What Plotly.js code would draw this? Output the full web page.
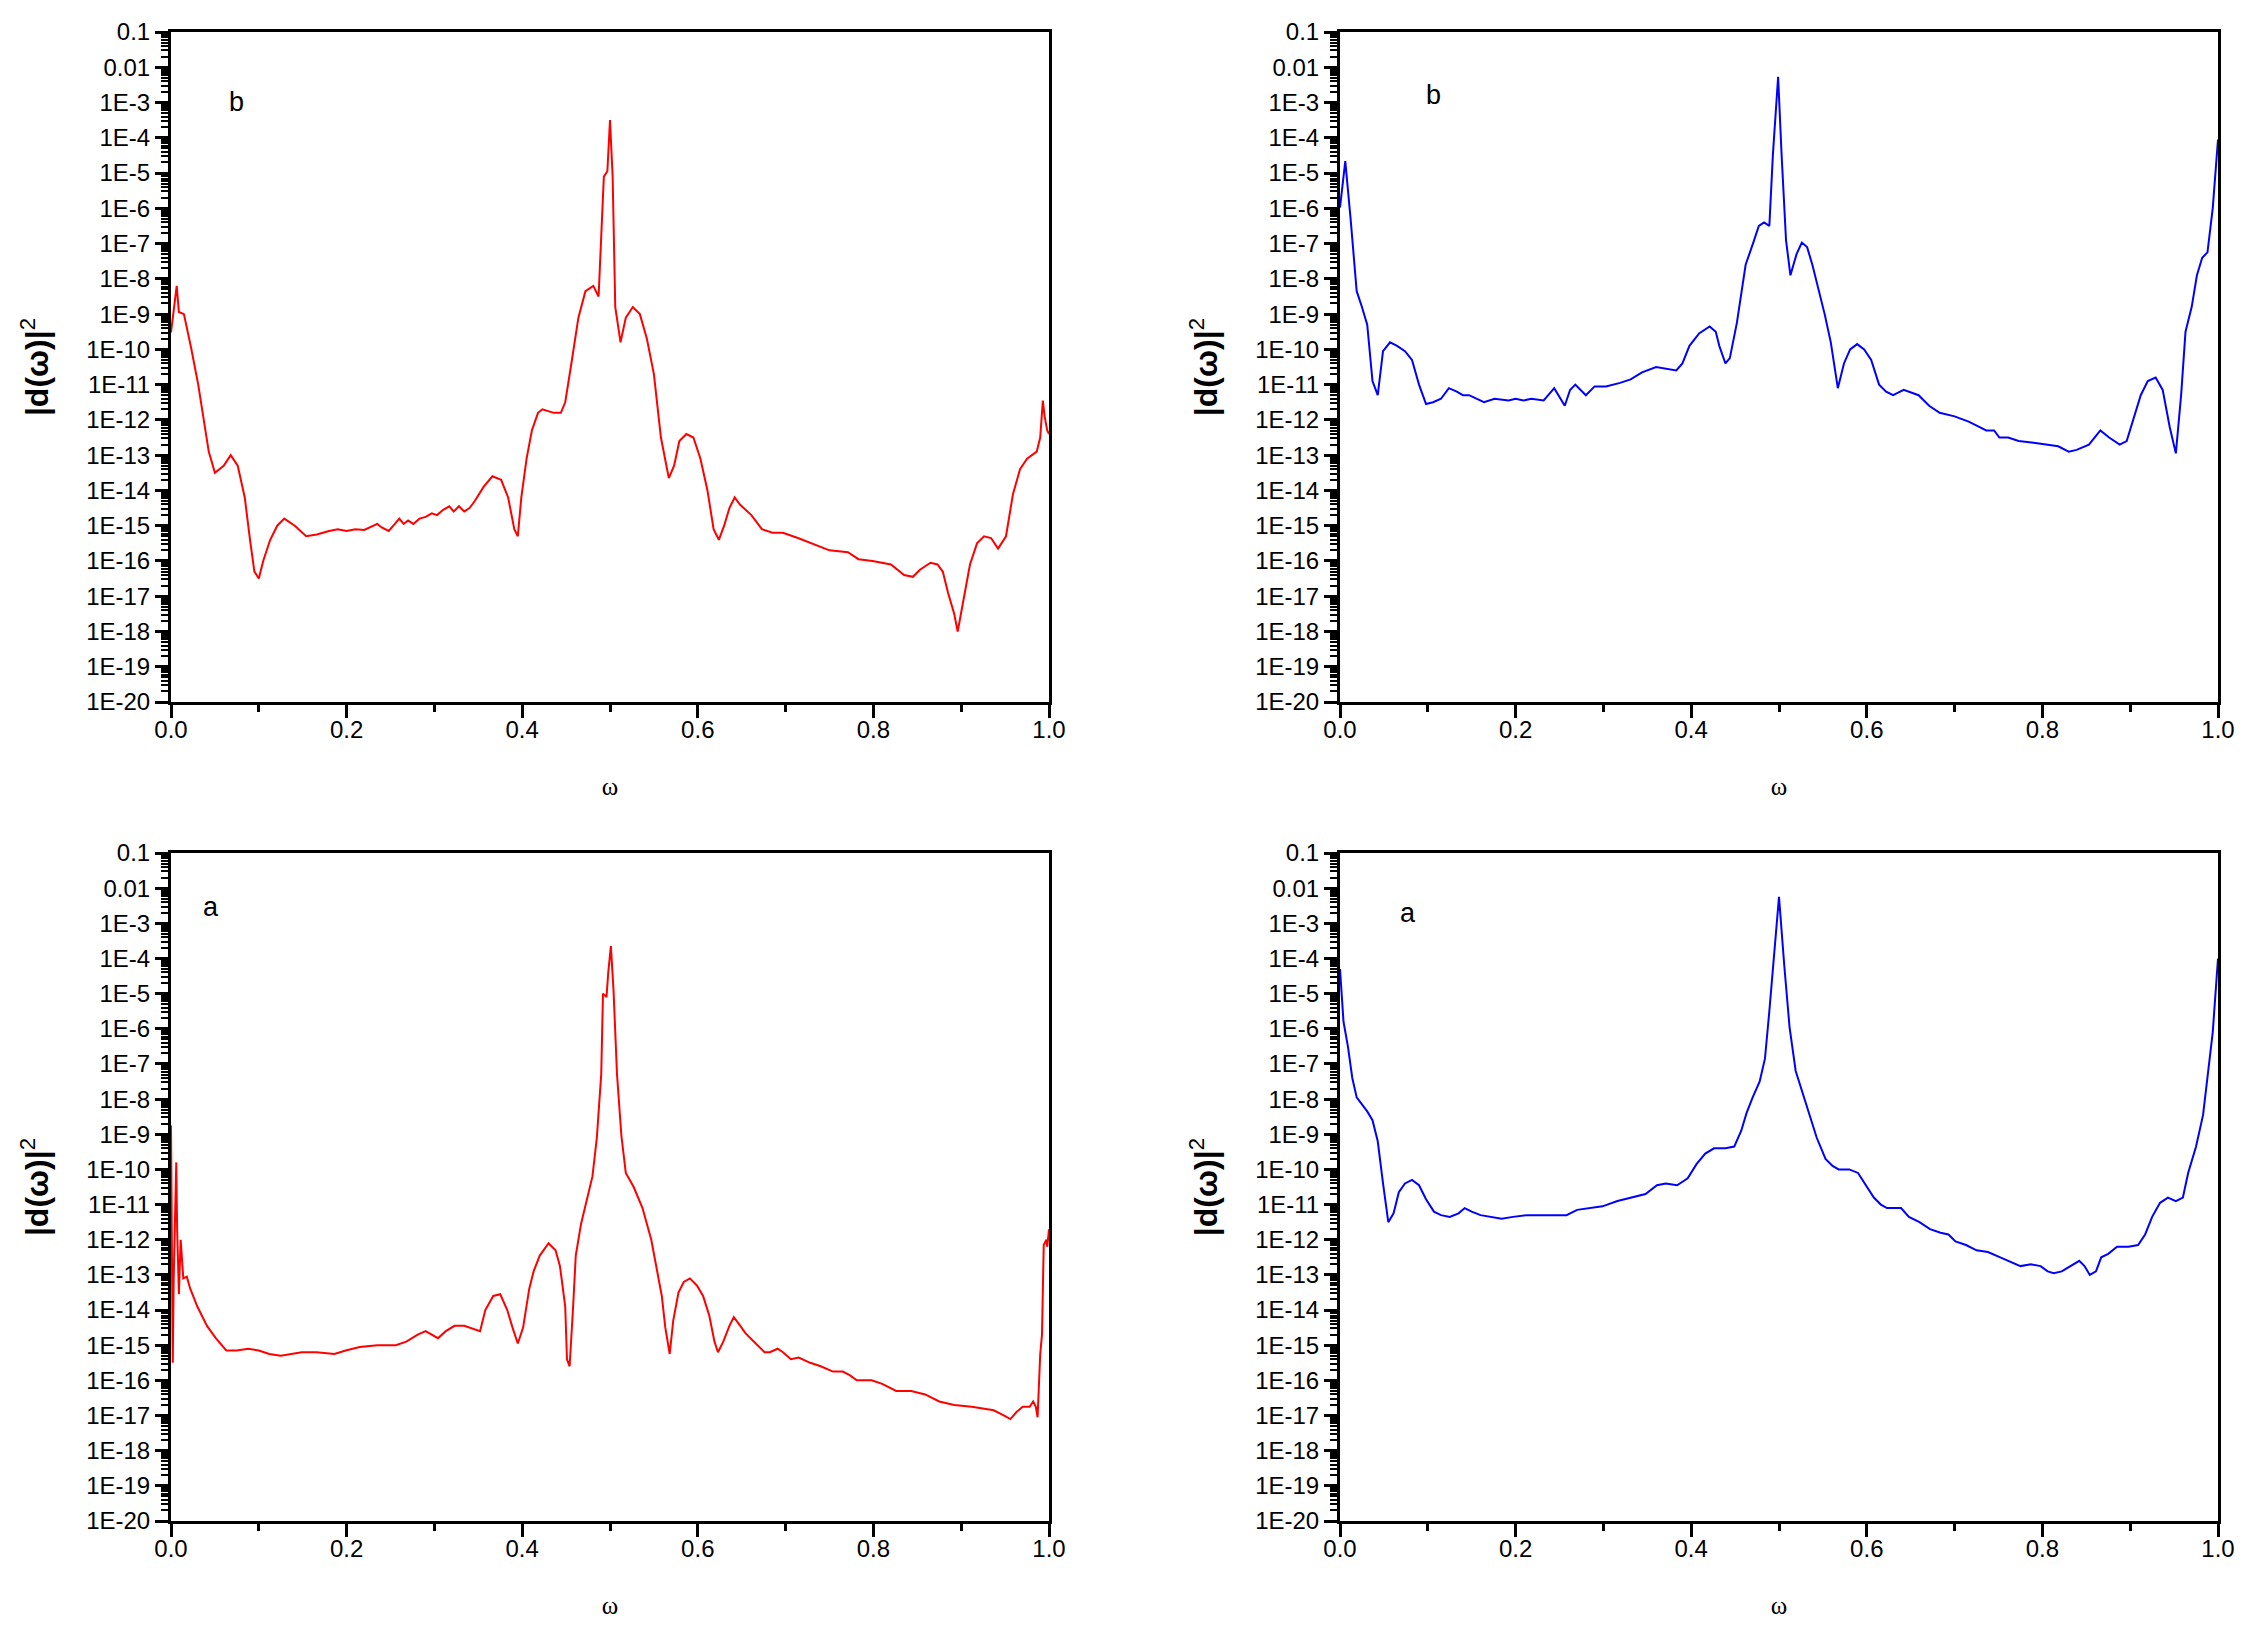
<!DOCTYPE html>
<html>
<head>
<meta charset="utf-8">
<script src="https://cdn.plot.ly/plotly-3.0.1.min.js"></script>
<style>
    html, body { margin: 0; padding: 0; background: white; }
    #chart { width: 2256px; height: 1628px; }
</style>
</head>
<body>
<div id="chart"></div>
<script>
// values: omega and log10 |d(omega)|^2

// top left, red, panel b
const omegaRedB = [
    0, 0.0065, 0.009, 0.0147, 0.023, 0.031, 0.043, 0.050, 0.060, 0.068,
    0.076, 0.084, 0.090, 0.095, 0.100, 0.105, 0.113, 0.121, 0.129, 0.141,
    0.154, 0.166, 0.180, 0.190, 0.200, 0.210, 0.220, 0.230, 0.235, 0.240,
    0.248, 0.255, 0.260, 0.265, 0.270, 0.276, 0.283, 0.290, 0.297, 0.303,
    0.310, 0.317, 0.322, 0.328, 0.334, 0.340, 0.346, 0.356, 0.366, 0.376,
    0.384, 0.391, 0.395, 0.399, 0.405, 0.411, 0.418, 0.423, 0.436, 0.444,
    0.449, 0.456, 0.464, 0.472, 0.481, 0.487, 0.493, 0.497, 0.500, 0.503,
    0.506, 0.512, 0.518, 0.526, 0.534, 0.542, 0.550, 0.558, 0.567, 0.573,
    0.579, 0.587, 0.595, 0.603, 0.611, 0.618, 0.624, 0.630, 0.636, 0.642,
    0.648, 0.661, 0.673, 0.685, 0.697, 0.714, 0.730, 0.750, 0.771, 0.783,
    0.799, 0.820, 0.835, 0.845, 0.853, 0.865, 0.873, 0.879, 0.885, 0.892,
    0.896, 0.902, 0.910, 0.918, 0.926, 0.934, 0.942, 0.951, 0.959, 0.967,
    0.975, 0.986, 0.990, 0.993, 0.995, 0.998, 1.0
];
const logRedB = [
    -9.52, -8.2, -8.94, -9.0, -9.97, -11.0, -12.9, -13.5, -13.3, -13.0,
    -13.3, -14.2, -15.4, -16.3, -16.5, -16.0, -15.4, -15.0, -14.8, -15.0,
    -15.3, -15.25, -15.15, -15.1, -15.15, -15.1, -15.12, -15.0, -14.95, -15.05,
    -15.15, -14.95, -14.8, -14.95, -14.85, -14.95, -14.8, -14.75, -14.65, -14.7,
    -14.55, -14.45, -14.6, -14.45, -14.6, -14.5, -14.3, -13.9, -13.6, -13.7,
    -14.2, -15.1, -15.3, -14.2, -13.1, -12.3, -11.8, -11.7, -11.8, -11.8,
    -11.5, -10.4, -9.1, -8.35, -8.2, -8.5, -5.1, -4.95, -3.5, -5.1,
    -8.8, -9.8, -9.1, -8.8, -9.0, -9.7, -10.7, -12.5, -13.65, -13.3,
    -12.6, -12.4, -12.5, -13.1, -14.0, -15.1, -15.4, -15.0, -14.5, -14.2,
    -14.4, -14.7, -15.1, -15.2, -15.2, -15.35, -15.5, -15.7, -15.75, -15.95,
    -16.0, -16.1, -16.4, -16.45, -16.25, -16.05, -16.1, -16.3, -16.9, -17.5,
    -18.0, -17.2, -16.1, -15.5, -15.3, -15.35, -15.65, -15.3, -14.1, -13.4,
    -13.1, -12.9, -12.5, -11.45, -11.9, -12.3, -12.4
];

// top right, blue, panel b
const omegaBlueB = [
    0, 0.006, 0.012, 0.019, 0.025, 0.031, 0.037, 0.043, 0.049, 0.057,
    0.065, 0.074, 0.082, 0.090, 0.098, 0.106, 0.115, 0.124, 0.133, 0.140,
    0.147, 0.155, 0.164, 0.176, 0.192, 0.200, 0.209, 0.218, 0.232, 0.244,
    0.256, 0.262, 0.268, 0.280, 0.290, 0.303, 0.319, 0.331, 0.344, 0.360,
    0.372, 0.383, 0.390, 0.398, 0.409, 0.421, 0.428, 0.432, 0.439, 0.444,
    0.452, 0.462, 0.471, 0.477, 0.483, 0.489, 0.493, 0.499, 0.503, 0.508,
    0.513, 0.520, 0.526, 0.532, 0.538, 0.544, 0.552, 0.559, 0.567, 0.574,
    0.581, 0.589, 0.597, 0.605, 0.614, 0.622, 0.630, 0.642, 0.659, 0.671,
    0.683, 0.700, 0.716, 0.728, 0.736, 0.745, 0.751, 0.761, 0.773, 0.790,
    0.806, 0.818, 0.830, 0.839, 0.853, 0.866, 0.876, 0.888, 0.896, 0.904,
    0.912, 0.920, 0.929, 0.937, 0.945, 0.952, 0.958, 0.963, 0.970, 0.976,
    0.982, 0.988, 0.994, 1.0
];
const logBlueB = [
    -5.98, -4.66, -6.28, -8.35, -8.8, -9.3, -10.9, -11.3, -10.05, -9.8,
    -9.9, -10.05, -10.3, -11.0, -11.55, -11.5, -11.4, -11.1, -11.2, -11.3,
    -11.3, -11.4, -11.5, -11.4, -11.45, -11.4, -11.45, -11.4, -11.45, -11.1,
    -11.6, -11.15, -11.0, -11.3, -11.05, -11.05, -10.95, -10.85, -10.65, -10.5,
    -10.55, -10.6, -10.4, -9.9, -9.55, -9.35, -9.5, -9.9, -10.4, -10.25,
    -9.25, -7.6, -6.95, -6.5, -6.4, -6.5, -4.5, -2.27, -4.5, -6.9,
    -7.9, -7.3, -6.97, -7.1, -7.6, -8.2, -9.0, -9.8, -11.1, -10.4,
    -10.0, -9.85, -10.0, -10.3, -11.0, -11.2, -11.3, -11.15, -11.3, -11.6,
    -11.8, -11.9, -12.05, -12.2, -12.3, -12.3, -12.5, -12.5, -12.6, -12.65,
    -12.7, -12.75, -12.9, -12.85, -12.7, -12.3, -12.5, -12.7, -12.6, -11.95,
    -11.3, -10.9, -10.8, -11.15, -12.2, -12.95, -11.3, -9.5, -8.8, -7.9,
    -7.4, -7.25, -6.0, -4.05
];

// bottom left, red, panel a
const omegaRedA = [
    0, 0.002, 0.003, 0.006, 0.007, 0.009, 0.011, 0.014, 0.018, 0.022,
    0.030, 0.041, 0.051, 0.063, 0.075, 0.088, 0.100, 0.112, 0.125, 0.137,
    0.149, 0.166, 0.186, 0.199, 0.215, 0.235, 0.256, 0.268, 0.281, 0.290,
    0.297, 0.304, 0.313, 0.323, 0.334, 0.346, 0.352, 0.358, 0.367, 0.375,
    0.383, 0.389, 0.395, 0.401, 0.408, 0.413, 0.420, 0.430, 0.438, 0.443,
    0.449, 0.451, 0.454, 0.458, 0.461, 0.467, 0.473, 0.480, 0.485, 0.490,
    0.492, 0.496, 0.498, 0.501, 0.504, 0.508, 0.513, 0.518, 0.527, 0.537,
    0.547, 0.553, 0.559, 0.563, 0.568, 0.572, 0.578, 0.584, 0.591, 0.599,
    0.606, 0.613, 0.619, 0.623, 0.629, 0.636, 0.641, 0.647, 0.654, 0.662,
    0.676, 0.682, 0.691, 0.697, 0.706, 0.715, 0.728, 0.740, 0.754, 0.765,
    0.773, 0.781, 0.798, 0.810, 0.826, 0.843, 0.859, 0.875, 0.892, 0.912,
    0.937, 0.949, 0.956, 0.963, 0.970, 0.978, 0.982, 0.985, 0.987, 0.990,
    0.992, 0.994, 0.997, 0.998, 1.0
];
const logRedA = [
    -8.75, -15.5, -13.2, -9.8, -11.7, -13.55, -12.0, -13.1, -13.05, -13.4,
    -13.9, -14.45, -14.8, -15.15, -15.15, -15.1, -15.15, -15.25, -15.3, -15.25,
    -15.2, -15.2, -15.25, -15.15, -15.05, -15.0, -15.0, -14.9, -14.7, -14.6,
    -14.7, -14.8, -14.6, -14.45, -14.45, -14.55, -14.6, -14.0, -13.6, -13.55,
    -14.0, -14.5, -14.95, -14.5, -13.4, -12.9, -12.45, -12.1, -12.3, -12.75,
    -13.9, -15.4, -15.6, -13.9, -12.45, -11.55, -10.95, -10.2, -9.1, -7.3,
    -5.0, -5.1, -4.4, -3.65, -4.9, -7.3, -9.05, -10.1, -10.5, -11.1,
    -12.0, -12.75, -13.6, -14.5, -15.25, -14.3, -13.5, -13.2, -13.1, -13.3,
    -13.6, -14.15, -14.9, -15.2, -14.9, -14.45, -14.2, -14.4, -14.65, -14.85,
    -15.2, -15.2, -15.1, -15.2, -15.4, -15.35, -15.5, -15.6, -15.75, -15.75,
    -15.85, -16.0, -16.0, -16.1, -16.3, -16.3, -16.4, -16.6, -16.7, -16.75,
    -16.85, -17.0, -17.1, -16.9, -16.75, -16.75, -16.6, -16.75, -17.05, -15.25,
    -14.7, -12.15, -12.0, -12.2, -11.7
];

// bottom right, blue, panel a
const omegaBlueA = [
    0, 0.004, 0.009, 0.014, 0.019, 0.025, 0.031, 0.037, 0.043, 0.049,
    0.055, 0.061, 0.067, 0.074, 0.082, 0.090, 0.098, 0.107, 0.115, 0.125,
    0.135, 0.142, 0.150, 0.160, 0.172, 0.184, 0.197, 0.213, 0.230, 0.246,
    0.258, 0.270, 0.283, 0.299, 0.316, 0.332, 0.348, 0.361, 0.371, 0.384,
    0.396, 0.406, 0.416, 0.426, 0.439, 0.449, 0.457, 0.463, 0.470, 0.478,
    0.484, 0.489, 0.494, 0.500, 0.506, 0.512, 0.519, 0.527, 0.535, 0.543,
    0.553, 0.561, 0.568, 0.580, 0.590, 0.598, 0.608, 0.616, 0.623, 0.639,
    0.648, 0.660, 0.672, 0.684, 0.693, 0.701, 0.713, 0.725, 0.738, 0.752,
    0.762, 0.775, 0.787, 0.798, 0.806, 0.813, 0.822, 0.832, 0.842, 0.848,
    0.854, 0.861, 0.867, 0.875, 0.885, 0.898, 0.909, 0.917, 0.925, 0.934,
    0.943, 0.952, 0.960, 0.966, 0.975, 0.983, 0.988, 0.994, 1.0
];
const logBlueA = [
    -4.3, -5.8, -6.5, -7.4, -7.95, -8.15, -8.35, -8.6, -9.2, -10.4,
    -11.5, -11.25, -10.65, -10.4, -10.3, -10.45, -10.85, -11.2, -11.3, -11.35,
    -11.25, -11.1, -11.2, -11.3, -11.35, -11.4, -11.35, -11.3, -11.3, -11.3,
    -11.3, -11.15, -11.1, -11.05, -10.9, -10.8, -10.7, -10.45, -10.4, -10.45,
    -10.25, -9.85, -9.55, -9.4, -9.4, -9.35, -8.9, -8.4, -7.95, -7.5,
    -6.85, -5.5, -4.05, -2.25, -4.2, -5.95, -7.2, -7.85, -8.5, -9.1,
    -9.7, -9.9, -10.0, -10.0, -10.1, -10.4, -10.8, -11.0, -11.1, -11.1,
    -11.35, -11.5, -11.7, -11.8, -11.85, -12.05, -12.15, -12.3, -12.35, -12.5,
    -12.6, -12.75, -12.7, -12.75, -12.9, -12.95, -12.9, -12.75, -12.6, -12.75,
    -13.0, -12.9, -12.5, -12.4, -12.2, -12.2, -12.15, -11.85, -11.35, -10.95,
    -10.8, -10.9, -10.8, -10.1, -9.35, -8.45, -7.4, -6.1, -4.0
];

// y tick labels, 0.1 down to 1E-20
const yTickExponents = [-1, -2, -3, -4, -5, -6, -7, -8, -9, -10, -11, -12, -13, -14, -15, -16, -17, -18, -19, -20];
const yTickText = ['0.1', '0.01', '1E-3', '1E-4', '1E-5', '1E-6', '1E-7', '1E-8', '1E-9', '1E-10',
    '1E-11', '1E-12', '1E-13', '1E-14', '1E-15', '1E-16', '1E-17', '1E-18', '1E-19', '1E-20'];

const panelLetters = ['b', 'b', 'a', 'a'];

const SANS = 'Liberation Sans, Arial, sans-serif';
const SERIF = 'Liberation Serif, Times New Roman, serif';

const yTickVals = yTickExponents.map(e => Math.pow(10, e));
const yMinorVals = [];
for (let k = -20; k <= -2; k++) {
    for (let m = 2; m <= 9; m++) {
        yMinorVals.push(m * Math.pow(10, k));
    }
}

function makeTrace(omega, logs, color, axisNum) {
    return {
        x: omega,
        y: logs.map(v => Math.pow(10, v)),
        type: 'scatter',
        mode: 'lines',
        line: { color: color, width: 2 },
        xaxis: 'x' + (axisNum === 1 ? '' : axisNum),
        yaxis: 'y' + (axisNum === 1 ? '' : axisNum),
        hoverinfo: 'x+y'
    };
}

function makeXAxis(domain, anchor) {
    return {
        domain: domain,
        anchor: anchor,
        range: [0, 1],
        tickmode: 'linear',
        tick0: 0,
        dtick: 0.2,
        tickformat: '.1f',
        ticks: 'outside',
        ticklen: 13,
        tickwidth: 3,
        tickcolor: 'black',
        ticklabelstandoff: -9,
        minor: { dtick: 0.1, ticks: 'outside', ticklen: 7, tickwidth: 3, tickcolor: 'black', showgrid: false },
        showline: true,
        linewidth: 3,
        linecolor: 'black',
        mirror: true,
        showgrid: false,
        zeroline: false,
        tickfont: { family: SANS, size: 24, color: 'black' },
        title: { text: 'ω', font: { family: SERIF, size: 25, color: 'black' }, standoff: 36 }
    };
}

function makeYAxis(domain, anchor) {
    return {
        domain: domain,
        anchor: anchor,
        type: 'log',
        range: [-20, -1],
        tickmode: 'array',
        tickvals: yTickVals,
        ticktext: yTickText,
        ticks: 'outside',
        ticklen: 13,
        tickwidth: 3,
        tickcolor: 'black',
        minor: { tickmode: 'array', tickvals: yMinorVals, ticks: 'outside', ticklen: 7, tickwidth: 2, tickcolor: 'black', showgrid: false },
        showline: true,
        linewidth: 3,
        linecolor: 'black',
        mirror: true,
        showgrid: false,
        zeroline: false,
        tickfont: { family: SANS, size: 24, color: 'black' },
        title: { text: '<b>|d(ω)|</b><sup>2</sup>', font: { family: SANS, size: 32, color: 'black' }, standoff: 28 }
    };
}

const leftDomain = [171 / 2256, 1049 / 2256];
const rightDomain = [1340 / 2256, 2218 / 2256];
const topDomain = [(1628 - 702) / 1628, (1628 - 32) / 1628];
const bottomDomain = [(1628 - 1521) / 1628, (1628 - 853) / 1628];

const data = [
    makeTrace(omegaRedB, logRedB, '#ff0000', 1),
    makeTrace(omegaBlueB, logBlueB, '#0000ff', 2),
    makeTrace(omegaRedA, logRedA, '#ff0000', 3),
    makeTrace(omegaBlueA, logBlueA, '#0000ff', 4)
];

const letterPos = [[0.075, 0.896], [0.106, 0.906], [0.046, 0.919], [0.077, 0.910]];
const annotations = panelLetters.map((letter, i) => ({
    xref: 'x' + (i === 0 ? '' : i + 1) + ' domain',
    yref: 'y' + (i === 0 ? '' : i + 1) + ' domain',
    x: letterPos[i][0],
    y: letterPos[i][1],
    text: letter,
    showarrow: false,
    xanchor: 'center',
    yanchor: 'middle',
    font: { family: SANS, size: 27, color: 'black' }
}));

const layout = {
    width: 2256,
    height: 1628,
    margin: { l: 0, r: 0, t: 0, b: 0, pad: 0 },
    plot_bgcolor: 'white',
    paper_bgcolor: 'white',
    showlegend: false,
    xaxis: makeXAxis(leftDomain, 'y'),
    yaxis: makeYAxis(topDomain, 'x'),
    xaxis2: makeXAxis(rightDomain, 'y2'),
    yaxis2: makeYAxis(topDomain, 'x2'),
    xaxis3: makeXAxis(leftDomain, 'y3'),
    yaxis3: makeYAxis(bottomDomain, 'x3'),
    xaxis4: makeXAxis(rightDomain, 'y4'),
    yaxis4: makeYAxis(bottomDomain, 'x4'),
    annotations: annotations
};

Plotly.newPlot(document.getElementById('chart'), data, layout, { displayModeBar: false });
</script>
</body>
</html>
